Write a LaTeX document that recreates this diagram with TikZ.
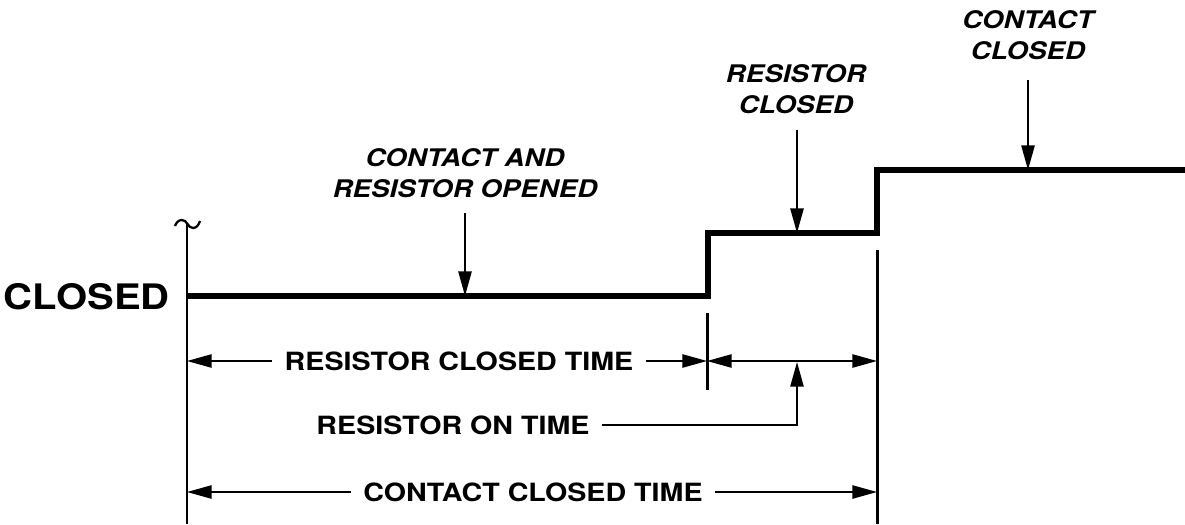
\documentclass[tikz,border=0pt]{standalone}
\usepackage{fontspec}
\setmainfont{TeX Gyre Heros}[FakeStretch=1.14]
\usetikzlibrary{arrows.meta,positioning}

\begin{document}
\begin{tikzpicture}[x=.02cm,y=-.02cm,
  tip/.tip={Triangle[length=14pt,width=7.5pt]},
  lbl/.style={font=\bfseries\fontsize{14.3}{16}\selectfont,inner xsep=7pt,inner ysep=0pt},
  tag/.style={font=\bfseries\itshape\fontsize{13.8}{18}\selectfont,align=center,inner sep=0pt},
  arr/.style={line width=1.1pt,-tip},
  dim/.style={line width=1.1pt,tip-tip},
  sig/.style={line width=3.4pt},
  rule/.style={line width=1.7pt}]
\useasboundingbox (0,0) rectangle (1185,524);
\coordinate (s0) at (187,296); \coordinate (s1) at (708,296); \coordinate (s2) at (708,233);
\coordinate (s3) at (877,233); \coordinate (s4) at (877,170); \coordinate (s5) at (1185,170);
\draw[sig,line join=miter] (s0)--(s1)--(s2)--(s3)--(s4)--(s5);
\draw[rule] (187,223)--(187,524);
\draw[rule] (877,250)--(877,524);
\draw[rule] (707,313)--(707,390);
\draw[line width=1.3pt] (175,226) to[out=70,in=180] (182,220) to[out=0,in=180] (193,228) to[out=0,in=250] (200,221);
\node[font=\bfseries\fontsize{20}{22}\selectfont,anchor=east,inner sep=0pt] (closed) at (170,297) {CLOSED};
\node[tag] (open) at (465,173) {CONTACT AND\\RESISTOR OPENED};
\node[tag] (rclosed) at (796,89) {RESISTOR\\CLOSED};
\node[tag] (cclosed) at (1028,35) {CONTACT\\CLOSED};
\draw[arr] (465,213)--(465,296);
\draw[arr] (797,130)--(797,233);
\draw[arr] (1028,80)--(1028,170);
\node[lbl] (rct) at (459,361) {RESISTOR CLOSED TIME};
\node[lbl] (rot) at (453,425) {RESISTOR ON TIME};
\node[lbl] (cct) at (533,492) {CONTACT CLOSED TIME};
\coordinate (l1) at (187,361); \coordinate (m1) at (707,361); \coordinate (r1) at (877,361);
\coordinate (l3) at (187,492); \coordinate (r3) at (877,492);
\coordinate (up) at (797,362);
\draw[arr] (rct.west)--(l1);
\draw[arr] (rct.east)--(m1);
\draw[dim] (m1)--(r1);
\draw[arr] (rot.east)-|(up);
\draw[arr] (cct.west)--(l3);
\draw[arr] (cct.east)--(r3);
\end{tikzpicture}
\end{document}
